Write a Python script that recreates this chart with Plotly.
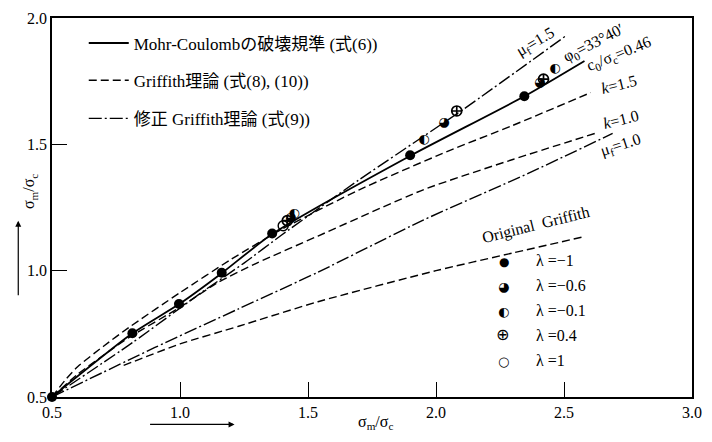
import plotly.graph_objects as go

# ---- theoretical curves (sigma_m/sigma_c -> ordinate) ----
mc_x = [0.5, 0.814, 1.0, 1.163, 1.36, 1.9, 2.345, 2.58]
mc_y = [0.5, 0.752, 0.87, 0.99, 1.145, 1.455, 1.69, 1.83]

grif_k15_x = [0.5, 0.55, 0.6, 0.7, 0.8, 1.0, 1.2, 1.4, 1.7, 2.04, 2.3, 2.605]
grif_k15_y = [0.5, 0.565, 0.62, 0.70, 0.775, 0.913, 1.045, 1.165, 1.32, 1.47, 1.575, 1.705]

grif_k10_x = [0.5, 0.6, 0.8, 1.0, 1.151, 1.3, 1.539, 1.95, 2.3, 2.62]
grif_k10_y = [0.5, 0.59, 0.735, 0.855, 0.955, 1.03, 1.137, 1.32, 1.44, 1.543]

grif_orig_x = [0.78, 1.0, 1.229, 1.539, 2.0, 2.3, 2.58]
grif_orig_y = [0.625, 0.71, 0.78, 0.877, 1.0, 1.07, 1.135]

mod_mu15_x = [0.5, 0.814, 1.086, 1.25, 1.397, 1.7, 2.109, 2.508]
mod_mu15_y = [0.5, 0.715, 0.915, 1.03, 1.141, 1.36, 1.64, 1.93]

mod_mu10_x = [0.5, 0.9, 1.229, 1.539, 1.95, 2.36, 2.69]
mod_mu10_y = [0.5, 0.695, 0.849, 0.994, 1.20, 1.385, 1.543]

# ---- test results for each stress ratio lambda ----
lam_m1_x = [0.5, 0.814, 0.996, 1.163, 1.36, 1.899, 2.345]
lam_m1_y = [0.5, 0.752, 0.868, 0.992, 1.147, 1.457, 1.69]
lam_m06_x = [1.432, 2.031, 2.405]
lam_m06_y = [1.21, 1.585, 1.745]
lam_m01_x = [1.446, 1.953, 2.465]
lam_m01_y = [1.225, 1.519, 1.798]
lam_p04_x = [1.419, 2.081, 2.42]
lam_p04_y = [1.198, 1.632, 1.758]
lam_p1_x = [1.403]
lam_p1_y = [1.178]

x_ticks = [0.5, 1.0, 1.5, 2.0, 2.5, 3.0]
y_ticks = [0.5, 1.0, 1.5, 2.0]

legend_names = ["Mohr-Coulombの破壊規準 (式(6))",
                "Griffith理論 (式(8), (10))",
                "修正 Griffith理論 (式(9))"]
lam_labels = ["λ =−1", "λ =−0.6", "λ =−0.1", "λ =0.4", "λ =1"]
lam_glyphs = ["●", "◕", "◐", "⊕", "○"]
lam_glyph_sizes = [12, 13, 13, 16, 13]

SERIF = "'Liberation Serif', 'Times New Roman', 'Noto Sans CJK JP', serif"
SYM = "'DejaVu Sans'"
INK = "black"

DASH = "8px,4px"
DASHDOT = "13px,3px,2px,3px"

fig = go.Figure()

def curve(x, y, dash, name=None, legend=None, width=1.4):
    fig.add_trace(go.Scatter(
        x=x, y=y, mode="lines",
        line=dict(color=INK, width=width, dash=dash, shape="spline", smoothing=0.6),
        name=name or "", showlegend=name is not None,
        legend=legend or "legend", hoverinfo="skip"))

curve(mc_x, mc_y, "solid", legend_names[0], "legend", width=1.8)
curve(grif_k15_x, grif_k15_y, DASH, legend_names[1], "legend2")
curve(grif_k10_x, grif_k10_y, DASH)
curve(grif_orig_x, grif_orig_y, DASH)
curve(mod_mu15_x, mod_mu15_y, DASHDOT, legend_names[2], "legend3")
curve(mod_mu10_x, mod_mu10_y, DASHDOT)

# measured points
fig.add_trace(go.Scatter(x=lam_m1_x, y=lam_m1_y, mode="markers", showlegend=False,
                         cliponaxis=False,
                         marker=dict(symbol="circle", size=10, color=INK)))
for gx, gy, g in [(lam_m06_x, lam_m06_y, lam_glyphs[1]),
                  (lam_m01_x, lam_m01_y, lam_glyphs[2])]:
    fig.add_trace(go.Scatter(x=gx, y=gy, mode="text", text=[g] * len(gx),
                             textposition="middle center", showlegend=False,
                             textfont=dict(family=SYM, size=13, color=INK)))
fig.add_trace(go.Scatter(x=lam_p04_x, y=lam_p04_y, mode="markers", showlegend=False,
                         marker=dict(symbol="circle-cross-open", size=10,
                                     color=INK, line=dict(width=1.7, color=INK))))
fig.add_trace(go.Scatter(x=lam_p1_x, y=lam_p1_y, mode="markers", showlegend=False,
                         marker=dict(symbol="circle-open", size=10,
                                     color=INK, line=dict(width=1.4, color=INK))))

# plot-area geometry in pixels
W, H = 712, 442
L, R, T, B = 52, 15, 10, 45
PW, PH = W - L - R, H - T - B

def px(xp):
    return (xp - L) / PW

def py(yp):
    return (H - B - yp) / PH

annotations = []

# curve labels
curve_labels = [
    ("μ<sub>f</sub>=1.5", 2.388, 1.903, -31),
    ("φ<sub>0</sub>=33°40′", 2.616, 1.899, -27),
    ("c<sub>0</sub>/σ<sub>c</sub>=0.46", 2.713, 1.857, -22),
    ("<i>k</i>=1.5", 2.713, 1.736, -14),
    ("<i>k</i>=1.0", 2.721, 1.597, -14),
    ("μ<sub>f</sub>=1.0", 2.721, 1.496, -18),
    ("Original  Griffith", 2.391, 1.18, -14),
]
for txt, x, y, ang in curve_labels:
    annotations.append(dict(x=x, y=y, xref="x", yref="y", text=txt, showarrow=False,
                            textangle=ang, font=dict(family=SERIF, size=16, color=INK)))

# lambda key
for i, (g, gs, t) in enumerate(zip(lam_glyphs, lam_glyph_sizes, lam_labels)):
    row = 268 + i * 25.5
    annotations.append(dict(x=px(515), y=py(row), xref="paper", yref="paper", text=g,
                            showarrow=False, font=dict(family=SYM, size=gs, color=INK)))
    annotations.append(dict(x=px(538), y=py(row), xref="paper", yref="paper", text=t,
                            xanchor="left", showarrow=False,
                            font=dict(family=SERIF, size=16, color=INK)))

# axis titles with arrows
annotations.append(dict(x=px(378), y=py(435), xref="paper", yref="paper",
                        text="σ<sub>m</sub>/σ<sub>c</sub>", showarrow=False,
                        font=dict(family=SERIF, size=16, color=INK)))
annotations.append(dict(x=px(236), y=py(425), xref="paper", yref="paper", text="",
                        showarrow=True, ax=-86, ay=0, arrowhead=2, arrowsize=1,
                        arrowwidth=1.2, arrowcolor=INK))
annotations.append(dict(x=px(18), y=py(187), xref="paper", yref="paper",
                        text="σ<sub>m</sub>/σ<sub>c</sub>", showarrow=False, textangle=-90,
                        font=dict(family=SERIF, size=16, color=INK)))
annotations.append(dict(x=px(18), y=py(217), xref="paper", yref="paper", text="",
                        showarrow=True, ax=0, ay=76, arrowhead=2, arrowsize=1,
                        arrowwidth=1.2, arrowcolor=INK))

legend_rows = [36, 74, 113]
legend_common = dict(xanchor="left", yanchor="middle", bgcolor="rgba(0,0,0,0)",
                     borderwidth=0, itemwidth=40,
                     font=dict(family=SERIF, size=17, color=INK))

fig.update_layout(
    width=W, height=H,
    margin=dict(l=L, r=R, t=T, b=B),
    paper_bgcolor="white", plot_bgcolor="white",
    font=dict(family=SERIF, size=16, color=INK),
    annotations=annotations,
    legend=dict(x=px(84), y=py(legend_rows[0]), **legend_common),
    legend2=dict(x=px(84), y=py(legend_rows[1]), **legend_common),
    legend3=dict(x=px(84), y=py(legend_rows[2]), **legend_common),
    xaxis=dict(range=[0.5, 3.0], tickvals=x_ticks, ticktext=[f"{v:.1f}" for v in x_ticks],
               showgrid=False, zeroline=False, showline=True, linecolor=INK, linewidth=1.5,
               mirror=True, ticks="inside", ticklen=15, tickwidth=1.2, tickcolor=INK,
               tickfont=dict(family=SERIF, size=16, color=INK)),
    yaxis=dict(range=[0.5, 2.0], tickvals=y_ticks, ticktext=[f"{v:.1f}" for v in y_ticks],
               showgrid=False, zeroline=False, showline=True, linecolor=INK, linewidth=1.5,
               mirror=True, ticks="inside", ticklen=15, tickwidth=1.2, tickcolor=INK,
               tickfont=dict(family=SERIF, size=16, color=INK)),
)

fig.write_html("out.html")
